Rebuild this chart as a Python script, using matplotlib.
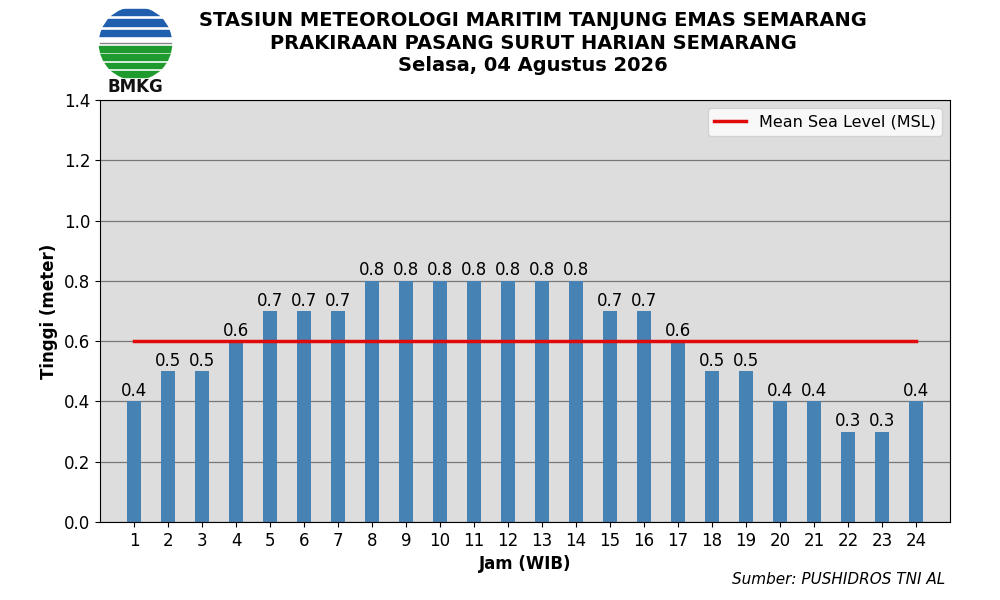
import numpy as np
import matplotlib
matplotlib.use('Agg')
import matplotlib.pyplot as plt
from matplotlib.patches import Circle, Rectangle

# data
jam = list(range(1, 25))
tinggi = [0.4, 0.5, 0.5, 0.6, 0.7, 0.7, 0.7, 0.8, 0.8, 0.8, 0.8, 0.8,
          0.8, 0.8, 0.7, 0.7, 0.6, 0.5, 0.5, 0.4, 0.4, 0.3, 0.3, 0.4]
msl = 0.6

title_lines = ["STASIUN METEOROLOGI MARITIM TANJUNG EMAS SEMARANG",
               "PRAKIRAAN PASANG SURUT HARIAN SEMARANG",
               "Selasa, 04 Agustus 2026"]

fig = plt.figure(figsize=(10, 6), dpi=100)
ax = fig.add_axes([0.100, 0.130, 0.850, 0.703])

ax.set_facecolor('#dddddd')
ax.set_axisbelow(True)
ax.yaxis.grid(True, color='#777777', linewidth=0.9)

bars = ax.bar(jam, tinggi, width=0.4, color='#4682b4', zorder=2)
for x, v in zip(jam, tinggi):
    ax.text(x, v + 0.005, f"{v:.1f}", ha='center', va='bottom', fontsize=12, zorder=3)

ax.plot([jam[0], jam[-1]], [msl, msl], color='#e00a0a', linewidth=2.5,
        label='Mean Sea Level (MSL)', zorder=3)

ax.set_xlim(0, 25)
ax.set_ylim(0, 1.4)
ax.set_xticks(jam)
ax.set_yticks(np.arange(0, 1.41, 0.2))
ax.set_yticklabels([f"{t:.1f}" for t in np.arange(0, 1.41, 0.2)])
ax.tick_params(labelsize=12)
ax.set_xlabel('Jam (WIB)', fontsize=12, fontweight='bold')
ax.set_ylabel('Tinggi (meter)', fontsize=12, fontweight='bold')
ax.legend(loc='upper right', fontsize=11.5)

for i, line in enumerate(title_lines):
    fig.text(0.533, 0.965 - i * 0.037, line, ha='center', va='center',
             fontsize=14, fontweight='bold')

fig.text(0.945, 0.035, 'Sumber: PUSHIDROS TNI AL', ha='right', va='center',
         fontsize=11, style='italic')

# BMKG logo
lax = fig.add_axes([0.098, 0.865, 0.075, 0.125])
lax.set_xlim(-1, 1)
lax.set_ylim(-1, 1)
lax.set_aspect('equal')
lax.axis('off')
clip = Circle((0, 0), 0.98, transform=lax.transData)
blue_y = [0.76, 0.48, 0.2]
for y in blue_y:
    r = Rectangle((-1, y), 2, 0.17, color='#1f5fae')
    r.set_clip_path(clip)
    lax.add_patch(r)
lax.plot([-0.95, 0.95], [0.02, 0.02], color='#888888', linewidth=1)
green_y = [-0.22, -0.44, -0.66, -0.88]
for y in green_y:
    r = Rectangle((-1, y), 2, 0.15, color='#1e9a2e')
    r.set_clip_path(clip)
    lax.add_patch(r)
fig.text(0.135, 0.855, 'BMKG', ha='center', va='center', fontsize=12,
         fontweight='bold', color='#111111')

fig.savefig('out.png', dpi=100)
